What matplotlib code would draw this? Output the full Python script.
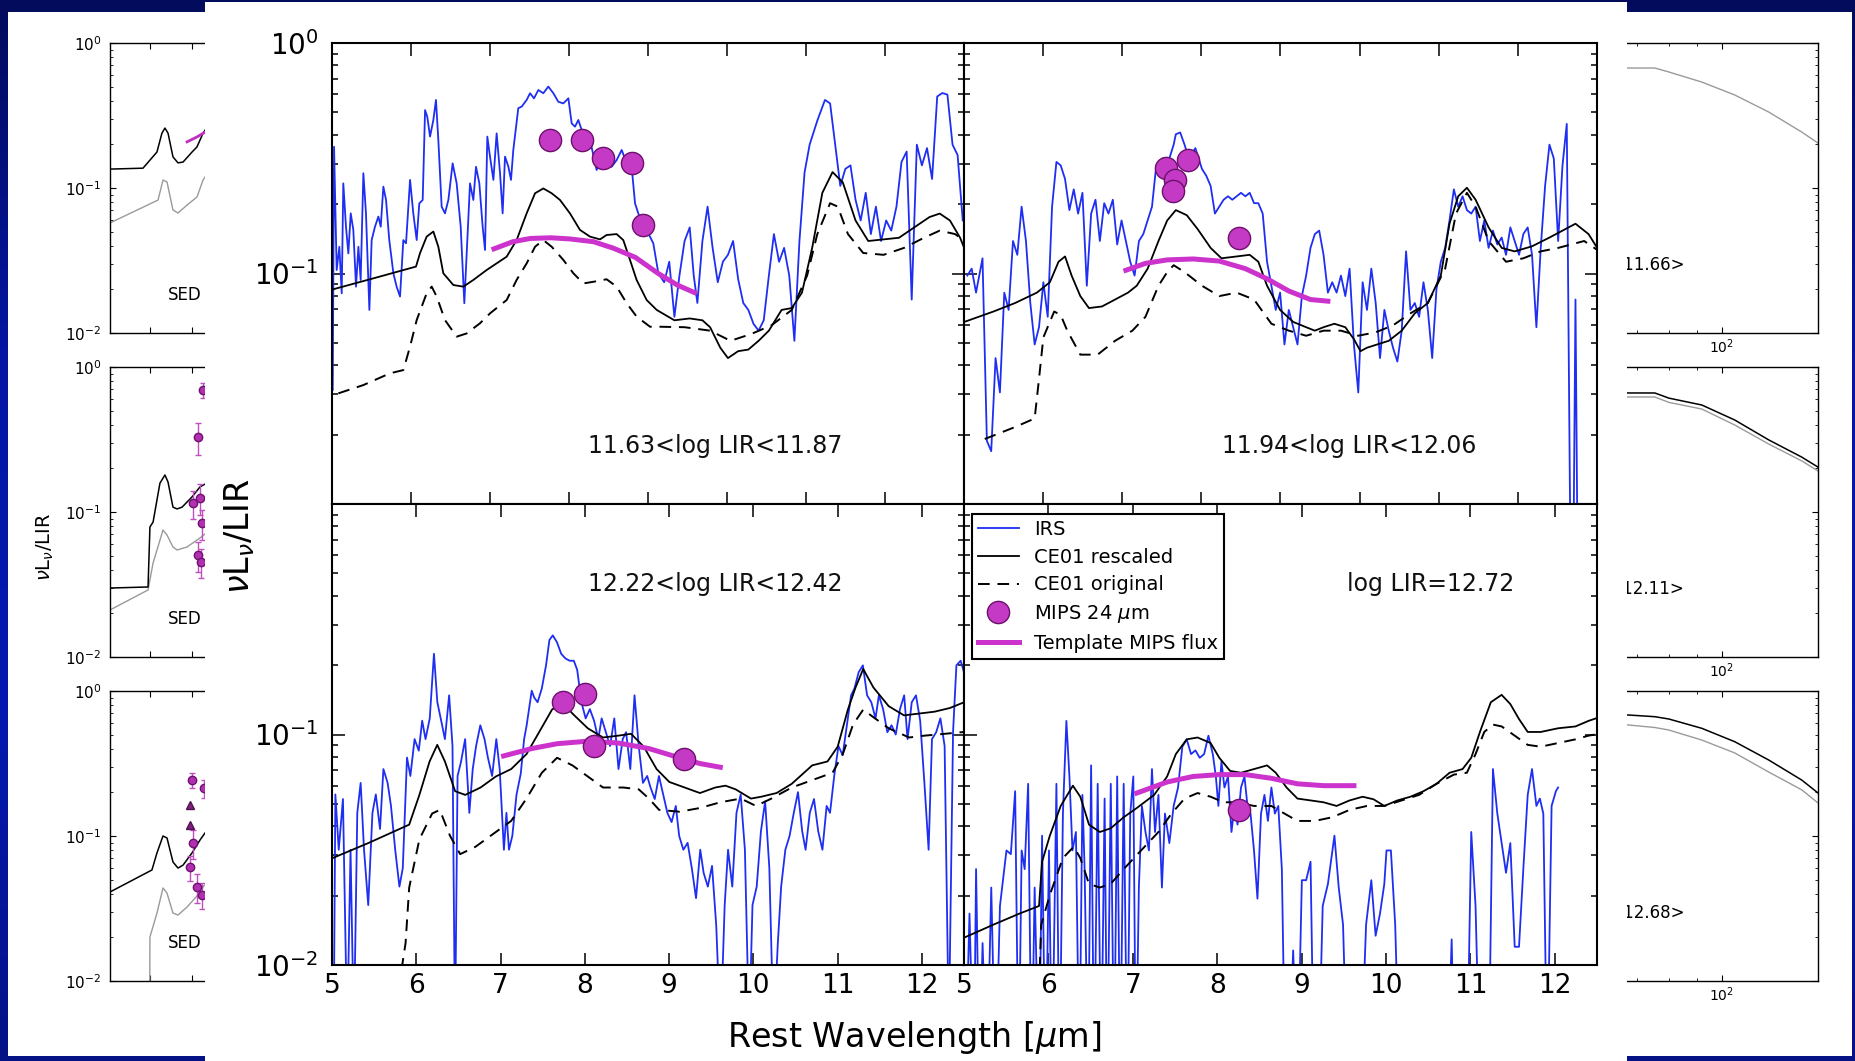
import matplotlib
matplotlib.use('Agg')

import matplotlib.pyplot as plt
import numpy as np
from matplotlib.patches import Rectangle
from matplotlib.colors import LinearSegmentedColormap
from matplotlib.ticker import NullFormatter, NullLocator, LogLocator

# ---------------- data: main 4 panels (wavelength in micron, log10 nuLnu/LIR) ----------------
# panel A: 11.63<log LIR<11.87
irs_a_wl = [5.009, 5.026, 5.059, 5.093, 5.123, 5.143, 5.177, 5.207, 5.237, 5.270,
            5.304, 5.334, 5.363, 5.397, 5.430, 5.473, 5.502, 5.544, 5.587, 5.617,
            5.650, 5.684, 5.725, 5.777, 5.818, 5.861, 5.903, 5.937, 5.988, 6.029,
            6.072, 6.105, 6.148, 6.178, 6.206, 6.241, 6.283, 6.316, 6.346, 6.388,
            6.430, 6.473, 6.527, 6.578, 6.629, 6.675, 6.705, 6.747, 6.789, 6.823,
            6.865, 6.907, 6.937, 6.966, 7.000, 7.043, 7.084, 7.127, 7.160, 7.190,
            7.233, 7.266, 7.295, 7.330, 7.358, 7.401, 7.464, 7.507, 7.557, 7.612,
            7.675, 7.738, 7.802, 7.865, 7.928, 7.992, 8.034, 8.076, 8.118, 8.182,
            8.266, 8.350, 8.413, 8.476, 8.540, 8.603, 8.667, 8.730, 8.793, 8.836,
            8.877, 8.941, 9.004, 9.067, 9.131,
            9.205, 9.269, 9.334, 9.398, 9.463, 9.528, 9.579, 9.625, 9.689, 9.754,
            9.818, 9.883, 9.948, 10.012, 10.077, 10.141, 10.206, 10.270, 10.335, 10.400,
            10.465, 10.530, 10.594, 10.659, 10.723, 10.788, 10.853, 10.917, 10.982, 11.046,
            11.143, 11.240, 11.305, 11.369, 11.434, 11.498, 11.563, 11.627, 11.692, 11.756,
            11.821, 11.885, 11.950, 12.015, 12.079, 12.145, 12.209, 12.274, 12.338, 12.403,
            12.467, 12.532, 12.596, 12.661, 12.726, 12.790, 12.855, 12.919, 12.984]
irs_a_lg = [-1.505, -0.450, -0.985, -0.884, -1.086, -0.609, -0.797, -0.913, -0.739, -0.811,
            -1.057, -0.884, -1.028, -0.565, -0.739, -1.158, -0.855, -0.797, -0.753, -0.797,
            -0.623, -0.681, -0.855, -0.999, -1.057, -1.100, -0.855, -0.869, -0.594, -0.739,
            -0.855, -0.696, -0.681, -0.291, -0.320, -0.406, -0.334, -0.247, -0.421, -0.710,
            -0.739, -0.681, -0.522, -0.609, -0.797, -1.129, -0.913, -0.609, -0.681, -0.537,
            -0.609, -0.797, -0.898, -0.406, -0.493, -0.594, -0.392, -0.565, -0.739, -0.493,
            -0.537, -0.594, -0.464, -0.363, -0.283, -0.276, -0.247, -0.218, -0.240, -0.204,
            -0.218, -0.189, -0.218, -0.255, -0.262, -0.240, -0.349, -0.363, -0.334, -0.399,
            -0.421, -0.551, -0.479, -0.493, -0.537, -0.508, -0.464, -0.522, -0.537, -0.696,
            -0.739, -0.797, -0.826, -0.869, -0.999,
            -1.038, -0.949, -1.188, -1.009, -0.859, -0.800, -1.009, -1.128, -0.859, -0.710,
            -0.889, -1.038, -0.949, -0.919, -0.859, -1.024, -1.128, -1.158, -1.218, -1.248,
            -1.203, -1.009, -0.829, -0.949, -0.889, -1.009, -1.292, -0.859, -0.561, -0.441,
            -0.337, -0.247, -0.262, -0.441, -0.620, -0.546, -0.531, -0.680, -0.770, -0.650,
            -0.829, -0.710, -0.859, -0.770, -0.814, -0.710, -0.516, -0.471, -1.113, -0.441,
            -0.531, -0.456, -0.590, -0.232, -0.217, -0.224, -0.441, -0.486, -0.770]
ce_a_wl = [5.009, 5.524, 6.063, 6.114, 6.198, 6.283, 6.346, 6.409, 6.536, 6.663,
           6.789, 6.957, 7.084, 7.211, 7.337, 7.464, 7.570, 7.675, 7.781, 7.886,
           8.012, 8.139, 8.266, 8.392, 8.476, 8.603, 8.687, 8.772, 8.856, 8.983,
           9.110, 9.334, 9.528, 9.689, 9.786, 9.915, 10.012, 10.141, 10.270, 10.400,
           10.530, 10.691, 10.820, 10.949, 11.078, 11.207, 11.336, 11.466, 11.627, 11.788,
           11.982, 12.177, 12.370, 12.564, 12.693, 12.822, 12.951, 13.002]
ce_a_lg = [-1.069, -1.021, -0.970, -0.912, -0.840, -0.818, -0.884, -0.999, -1.050, -1.057,
           -1.028, -0.985, -0.956, -0.927, -0.855, -0.739, -0.652, -0.631, -0.652, -0.681,
           -0.739, -0.811, -0.840, -0.852, -0.833, -0.829, -0.855, -0.941, -1.028, -1.115,
           -1.158, -1.203, -1.195, -1.203, -1.233, -1.322, -1.367, -1.337, -1.330, -1.292,
           -1.248, -1.158, -1.150, -1.083, -0.889, -0.650, -0.560, -0.605, -0.770, -0.859,
           -0.852, -0.845, -0.800, -0.755, -0.740, -0.770, -0.845, -0.889]
orig_a_wl = [5.080, 5.397, 5.734, 5.903, 5.988, 6.072, 6.198, 6.262, 6.325, 6.430,
             6.578, 6.705, 6.873, 7.000, 7.211, 7.337, 7.464, 7.570, 7.675, 7.781,
             7.928, 8.055, 8.182, 8.308, 8.476, 8.603, 8.730, 8.856, 9.026, 9.151,
             9.463, 9.786, 10.044, 10.302, 10.562, 10.820, 11.014, 11.143, 11.305, 11.402,
             11.531, 11.724, 11.982, 12.240, 12.499, 12.693, 12.887, 13.002]
orig_a_lg = [-1.520, -1.484, -1.433, -1.419, -1.317, -1.202, -1.086, -1.057, -1.100, -1.202,
             -1.274, -1.260, -1.216, -1.173, -1.115, -1.028, -0.956, -0.884, -0.855, -0.884,
             -0.941, -0.999, -1.043, -1.036, -1.025, -1.057, -1.129, -1.187, -1.231, -1.231,
             -1.233, -1.248, -1.292, -1.263, -1.225, -1.158, -1.009, -0.829, -0.695, -0.710,
             -0.829, -0.911, -0.919, -0.889, -0.844, -0.814, -0.829, -0.859]
tmpl_a_wl = [7.05, 7.29, 7.51, 7.77, 8.01, 8.31, 8.56, 8.84, 9.13, 9.37, 9.59]
tmpl_a_lg = [-0.893, -0.862, -0.848, -0.845, -0.850, -0.862, -0.890, -0.930, -1.000, -1.050, -1.083]
mips_a_wl = [7.76, 8.16, 8.435, 8.793, 8.941]
mips_a_lg = [-0.421, -0.421, -0.500, -0.522, -0.790]

# panel B: 11.94<log LIR<12.06
irs_b_wl = [5.042, 5.097, 5.152, 5.234, 5.289, 5.344, 5.399, 5.454, 5.509, 5.564,
            5.619, 5.674, 5.728, 5.783, 5.838, 5.893, 5.948, 6.003, 6.058, 6.113,
            6.168, 6.222, 6.277, 6.332, 6.387, 6.442, 6.497, 6.552, 6.607, 6.662,
            6.717, 6.772, 6.826, 6.881, 6.936, 6.991, 7.046, 7.101, 7.156, 7.211,
            7.266, 7.321, 7.376, 7.430, 7.513, 7.595, 7.650, 7.677, 7.732, 7.787,
            7.842, 7.924, 8.007, 8.062, 8.117, 8.171, 8.226, 8.281, 8.336, 8.391,
            8.446, 8.501, 8.556, 8.611, 8.666, 8.720, 8.775, 8.830, 8.885, 8.940,
            8.995, 9.050, 9.105, 9.160, 9.215, 9.270, 9.324, 9.379, 9.434, 9.489,
            9.544, 9.599, 9.654, 9.709, 9.764, 9.819, 9.873, 9.928, 9.983, 10.038,
            10.093, 10.148, 10.203, 10.258, 10.313, 10.368, 10.422, 10.477, 10.532, 10.587,
            10.642, 10.697, 10.752, 10.807, 10.862, 10.917, 10.971, 11.026, 11.081, 11.136,
            11.191, 11.246, 11.301, 11.356, 11.411, 11.466, 11.520, 11.575, 11.630, 11.685,
            11.740, 11.795, 11.850, 11.905, 11.960, 12.015, 12.069, 12.124, 12.179, 12.234,
            12.289, 12.344, 12.399, 12.454, 12.509, 12.564, 12.618, 12.684, 12.728, 12.772]
irs_b_lg = [-1.009, -0.979, -1.083, -0.934, -1.726, -1.771, -1.367, -1.516, -1.083, -1.158,
            -0.859, -0.919, -0.710, -0.859, -1.128, -1.308, -1.233, -1.038, -1.188, -0.710,
            -0.516, -0.531, -0.590, -0.725, -0.635, -0.740, -0.650, -1.053, -0.740, -0.680,
            -0.859, -0.695, -0.740, -0.680, -0.874, -0.770, -0.859, -0.949, -1.009, -0.859,
            -0.829, -0.770, -0.710, -0.531, -0.501, -0.501, -0.441, -0.396, -0.388, -0.441,
            -0.501, -0.456, -0.546, -0.576, -0.620, -0.740, -0.710, -0.680, -0.665, -0.680,
            -0.665, -0.650, -0.665, -0.650, -0.695, -0.695, -0.740, -0.949, -1.053, -1.158,
            -1.083, -1.308, -1.158, -1.233, -1.308, -1.098, -1.009, -0.889, -0.829, -0.814,
            -0.919, -1.083, -1.038, -1.083, -1.009, -1.098, -0.979, -1.308, -1.516, -1.038,
            -1.158, -0.979, -1.128, -1.367, -1.158, -1.248, -1.322, -1.382, -1.248, -0.904,
            -1.158, -1.128, -1.188, -1.038, -1.158, -1.367, -1.068, -0.949, -0.889, -0.770,
            -0.635, -0.710, -0.665, -0.725, -0.740, -0.710, -0.859, -0.770, -0.889, -0.814,
            -0.874, -0.844, -0.919, -0.800, -0.859, -0.919, -0.829, -0.800, -0.919, -1.233,
            -0.889, -0.620, -0.441, -0.501, -0.859, -0.531, -0.351, -3.000, -1.113, -3.000]
ce_b_wl = [5.004, 5.372, 5.646, 5.921, 6.085, 6.195, 6.277, 6.360, 6.470, 6.579,
           6.744, 6.909, 7.073, 7.183, 7.321, 7.458, 7.568, 7.677, 7.815, 7.952,
           8.117, 8.254, 8.446, 8.611, 8.720, 8.830, 8.995, 9.160, 9.324, 9.434,
           9.544, 9.681, 9.819, 9.928, 10.011, 10.093, 10.230, 10.368, 10.532, 10.697,
           10.862, 11.026, 11.136, 11.246, 11.356, 11.466, 11.630, 11.795, 11.960, 12.179,
           12.399, 12.564, 12.728, 12.893, 13.030]
ce_b_lg = [-1.210, -1.165, -1.128, -1.083, -1.038, -0.949, -0.926, -1.009, -1.098, -1.150,
           -1.143, -1.113, -1.083, -1.053, -0.979, -0.859, -0.770, -0.725, -0.747, -0.807,
           -0.889, -0.934, -0.926, -0.919, -0.949, -1.053, -1.158, -1.210, -1.233, -1.248,
           -1.233, -1.218, -1.233, -1.285, -1.337, -1.322, -1.307, -1.292, -1.248, -1.173,
           -1.128, -1.009, -0.784, -0.665, -0.628, -0.680, -0.800, -0.889, -0.904, -0.882,
           -0.844, -0.814, -0.784, -0.829, -0.904]
orig_b_wl = [5.262, 5.646, 5.893, 5.948, 6.003, 6.140, 6.222, 6.305, 6.470, 6.689,
             6.909, 7.128, 7.293, 7.458, 7.568, 7.650, 7.787, 8.007, 8.226, 8.446,
             8.666, 8.885, 9.105, 9.324, 9.544, 9.764, 9.983, 10.203, 10.422, 10.642,
             10.862, 11.081, 11.218, 11.356, 11.466, 11.630, 11.850, 12.069, 12.289, 12.509,
             12.673, 12.838, 13.030]
orig_b_lg = [-1.718, -1.666, -1.629, -1.457, -1.277, -1.165, -1.180, -1.248, -1.352, -1.352,
             -1.292, -1.248, -1.188, -1.053, -0.994, -0.964, -0.994, -1.053, -1.098, -1.083,
             -1.113, -1.218, -1.248, -1.270, -1.248, -1.248, -1.270, -1.255, -1.225, -1.173,
             -1.128, -0.979, -0.740, -0.650, -0.710, -0.859, -0.949, -0.934, -0.904, -0.889,
             -0.874, -0.859, -0.904]
tmpl_b_wl = [7.046, 7.293, 7.568, 7.897, 8.226, 8.556, 8.830, 9.105, 9.379, 9.599]
tmpl_b_lg = [-0.986, -0.956, -0.941, -0.937, -0.946, -0.979, -1.023, -1.076, -1.113, -1.120]
mips_b_wl = [7.551, 7.837, 7.667, 7.639, 8.473]
mips_b_lg = [-0.543, -0.508, -0.595, -0.643, -0.844]

# panel C: 12.22<log LIR<12.42  (values below the axis floor are set to -2.3)
irs_c_wl = [5.02, 5.04, 5.08, 5.13, 5.18, 5.22, 5.26, 5.30, 5.34, 5.38,
            5.43, 5.48, 5.52, 5.57, 5.61, 5.66, 5.70, 5.75, 5.80, 5.84,
            5.89, 5.93, 5.98, 6.03, 6.07, 6.11, 6.16, 6.21, 6.25, 6.29,
            6.34, 6.39, 6.43, 6.46, 6.49, 6.53, 6.58, 6.63, 6.67, 6.71,
            6.76, 6.81, 6.85, 6.90, 6.95, 6.99, 7.04, 7.07, 7.10, 7.14,
            7.19, 7.24, 7.28, 7.31, 7.37, 7.40, 7.44, 7.49, 7.54, 7.58,
            7.62, 7.67, 7.72, 7.77, 7.82, 7.87, 7.91, 7.96, 8.01, 8.06,
            8.11, 8.16, 8.20, 8.25, 8.30, 8.35, 8.40, 8.45, 8.49, 8.54,
            8.59, 8.64, 8.69, 8.74, 8.78, 8.83, 8.88, 8.93, 8.98, 9.03,
            9.08, 9.12, 9.17, 9.22, 9.27, 9.32, 9.37, 9.41, 9.46, 9.51,
            9.56, 9.61, 9.66, 9.70, 9.75, 9.80, 9.85, 9.90, 9.95, 9.99,
            10.04, 10.09, 10.14, 10.19, 10.24, 10.29, 10.33, 10.38, 10.43, 10.48,
            10.53, 10.58, 10.62, 10.67, 10.72, 10.77, 10.82, 10.87, 10.91, 10.96,
            11.01, 11.06, 11.11, 11.16, 11.20, 11.25, 11.30, 11.35, 11.40, 11.45,
            11.49, 11.54, 11.59, 11.64, 11.69, 11.74, 11.79, 11.83, 11.88, 11.93,
            11.98, 12.03, 12.08, 12.12, 12.17, 12.22, 12.27, 12.32, 12.37, 12.41,
            12.46, 12.50]
irs_c_lg = [-2.3, -1.26, -1.50, -1.28, -2.3, -1.50, -2.3, -1.34, -1.21, -1.50,
            -1.74, -1.34, -1.26, -1.41, -1.15, -1.21, -1.31, -1.50, -1.66, -1.58,
            -1.10, -1.18, -1.02, -1.07, -0.94, -1.02, -0.93, -0.65, -0.86, -0.93,
            -1.02, -0.83, -1.05, -2.3, -1.18, -1.12, -1.02, -1.34, -1.15, -1.05,
            -0.96, -1.02, -1.10, -1.18, -1.02, -1.15, -1.50, -1.34, -1.50, -1.44,
            -1.26, -1.17, -1.02, -0.96, -0.81, -0.84, -0.86, -0.80, -0.70, -0.59,
            -0.57, -0.60, -0.65, -0.67, -0.68, -0.68, -0.72, -0.86, -0.93, -0.89,
            -0.94, -1.02, -0.93, -0.99, -1.05, -0.93, -1.15, -1.02, -0.99, -1.15,
            -0.83, -1.05, -1.21, -1.18, -1.23, -1.28, -1.18, -1.26, -1.34, -1.38,
            -1.31, -1.44, -1.50, -1.47, -1.58, -1.71, -1.50, -1.60, -1.66, -1.57,
            -1.83, -2.3, -1.74, -1.50, -1.66, -1.34, -1.26, -1.50, -2.3, -1.74,
            -1.66, -1.42, -1.29, -1.58, -2.3, -1.91, -1.66, -1.50, -1.44, -1.34,
            -1.25, -1.42, -1.50, -1.34, -1.28, -1.42, -1.50, -1.31, -1.34, -1.18,
            -1.05, -1.09, -0.96, -0.83, -0.80, -0.73, -0.70, -0.83, -0.86, -0.93,
            -0.83, -0.89, -0.99, -0.96, -1.00, -0.89, -0.83, -1.02, -0.86, -0.83,
            -0.94, -1.21, -1.50, -1.02, -0.99, -0.93, -1.05, -2.3, -0.99, -0.70,
            -0.68, -0.73]
ce_c_wl = [5.008, 5.431, 5.916, 6.037, 6.158, 6.249, 6.340, 6.461, 6.581, 6.763,
           6.945, 7.126, 7.308, 7.459, 7.611, 7.732, 7.853, 8.035, 8.216, 8.398,
           8.549, 8.700, 8.852, 9.003, 9.185, 9.366, 9.548, 9.669, 9.790, 9.972,
           10.093, 10.275, 10.456, 10.698, 10.880, 11.001, 11.122, 11.213, 11.304, 11.425,
           11.606, 11.788, 11.970, 12.151, 12.333, 12.502]
ce_c_lg = [-1.536, -1.471, -1.391, -1.262, -1.117, -1.045, -1.117, -1.246, -1.262, -1.230,
           -1.182, -1.150, -1.085, -0.989, -0.892, -0.860, -0.909, -0.973, -1.013, -1.005,
           -0.997, -1.053, -1.150, -1.206, -1.230, -1.254, -1.230, -1.222, -1.238, -1.278,
           -1.270, -1.254, -1.214, -1.134, -1.117, -1.053, -0.892, -0.796, -0.716, -0.796,
           -0.877, -0.917, -0.909, -0.901, -0.885, -0.860]
orig_c_wl = [5.825, 5.873, 5.916, 6.037, 6.188, 6.279, 6.400, 6.521, 6.703, 6.884,
             7.126, 7.308, 7.490, 7.671, 7.853, 8.035, 8.216, 8.458, 8.640, 8.761,
             8.882, 9.124, 9.366, 9.608, 9.851, 10.032, 10.214, 10.456, 10.698, 10.940,
             11.062, 11.183, 11.304, 11.425, 11.606, 11.849, 12.030, 12.272, 12.502]
orig_c_lg = [-2.020, -1.905, -1.664, -1.455, -1.343, -1.327, -1.439, -1.519, -1.487, -1.439,
             -1.375, -1.278, -1.166, -1.101, -1.134, -1.182, -1.230, -1.230, -1.238, -1.278,
             -1.327, -1.335, -1.319, -1.294, -1.278, -1.310, -1.278, -1.230, -1.198, -1.166,
             -1.085, -0.957, -0.892, -0.925, -0.973, -1.013, -1.005, -0.997, -0.989]
tmpl_c_wl = [7.036, 7.369, 7.671, 8.035, 8.398, 8.761, 9.124, 9.366, 9.608]
tmpl_c_lg = [-1.093, -1.061, -1.040, -1.029, -1.037, -1.061, -1.101, -1.126, -1.142]
mips_c_wl = [7.744, 8.004, 8.107, 9.172]
mips_c_lg = [-0.860, -0.825, -1.050, -1.105]

# panel D: log LIR=12.72  (values below the axis floor are set to -2.5)
irs_d_wl = [5.014, 5.065, 5.117, 5.143, 5.184, 5.220, 5.271, 5.323, 5.374, 5.426,
            5.503, 5.555, 5.606, 5.647, 5.683, 5.719, 5.760, 5.801, 5.837, 5.889,
            5.925, 5.966, 6.007, 6.043, 6.095, 6.131, 6.172, 6.213, 6.249, 6.285,
            6.326, 6.367, 6.403, 6.429, 6.470, 6.506, 6.542, 6.584, 6.625, 6.666,
            6.697, 6.739, 6.779, 6.815, 6.851, 6.892, 6.934, 6.970, 7.006, 7.037,
            7.072, 7.108, 7.150, 7.191, 7.227, 7.263, 7.304, 7.345, 7.381, 7.433,
            7.484, 7.536, 7.587, 7.639, 7.690, 7.742, 7.793, 7.845, 7.896, 7.948,
            7.984, 8.014, 8.050, 8.086, 8.128, 8.169, 8.205, 8.241, 8.282, 8.323,
            8.359, 8.395, 8.436, 8.477, 8.519, 8.560, 8.601, 8.642, 8.683, 8.724,
            8.766, 8.807, 8.848, 8.900, 8.951, 9.003, 9.054, 9.106, 9.147, 9.198,
            9.250, 9.312, 9.389, 9.440, 9.491, 9.543, 9.594, 9.646, 9.697, 9.764,
            9.826, 9.877, 9.929, 9.980, 10.006, 10.058, 10.109, 10.161, 10.238, 10.495,
            10.727, 10.778, 10.814, 10.958, 11.010, 11.061, 11.113, 11.216, 11.267, 11.319,
            11.370, 11.422, 11.473, 11.525, 11.576, 11.627, 11.679, 11.730, 11.782, 11.823,
            11.864, 11.910, 11.962, 12.013, 12.039]
irs_d_lg = [-2.5, -1.777, -2.5, -1.584, -2.5, -1.905, -2.5, -1.664, -2.5, -1.744,
            -1.503, -1.519, -1.246, -2.5, -1.503, -1.584, -1.214, -2.5, -1.664, -2.5,
            -1.439, -2.5, -1.503, -2.5, -1.214, -2.5, -1.343, -0.941, -1.182, -1.503,
            -1.423, -2.5, -1.262, -1.584, -2.5, -1.134, -2.5, -1.214, -2.5, -1.278,
            -2.5, -1.214, -2.5, -1.182, -2.5, -1.214, -2.5, -1.343, -1.182, -2.5,
            -1.664, -1.310, -1.423, -1.503, -1.150, -1.423, -1.262, -1.664, -1.343, -1.471,
            -1.310, -1.230, -1.053, -1.021, -1.085, -1.069, -1.101, -1.085, -1.005, -1.085,
            -1.182, -1.310, -1.117, -1.230, -1.182, -1.423, -1.310, -1.391, -1.230, -1.182,
            -1.310, -1.343, -1.503, -1.712, -1.343, -1.262, -1.375, -1.230, -1.343, -1.310,
            -1.584, -2.5, -2.5, -1.937, -2.5, -1.632, -1.632, -1.552, -2.5, -2.5,
            -1.744, -1.648, -1.439, -1.664, -1.825, -2.5, -2.5, -2.5, -2.5, -1.825,
            -1.632, -1.873, -1.777, -1.648, -1.503, -1.503, -1.825, -2.5, -2.5, -2.5,
            -2.5, -1.889, -2.5, -2.5, -1.423, -1.744, -2.5, -2.5, -1.150, -1.343,
            -1.471, -1.600, -1.471, -1.921, -1.921, -1.584, -1.262, -1.150, -1.310, -1.278,
            -1.343, -2.5, -1.310, -1.246, -1.230]
ce_d_wl = [5.004, 5.348, 5.657, 5.889, 5.925, 6.017, 6.146, 6.290, 6.378, 6.481,
           6.609, 6.738, 6.892, 7.047, 7.253, 7.407, 7.510, 7.639, 7.768, 7.922,
           8.025, 8.153, 8.282, 8.436, 8.591, 8.694, 8.822, 8.951, 9.106, 9.260,
           9.414, 9.569, 9.723, 9.852, 9.980, 10.135, 10.289, 10.444, 10.598, 10.753,
           10.907, 11.010, 11.113, 11.242, 11.370, 11.473, 11.576, 11.679, 11.833, 12.039,
           12.245, 12.399, 12.528]
ce_d_lg = [-1.881, -1.825, -1.777, -1.744, -1.552, -1.439, -1.310, -1.222, -1.270, -1.391,
           -1.423, -1.407, -1.359, -1.319, -1.262, -1.182, -1.085, -1.021, -1.013, -1.037,
           -1.101, -1.158, -1.166, -1.150, -1.134, -1.166, -1.230, -1.278, -1.286, -1.294,
           -1.310, -1.286, -1.270, -1.281, -1.310, -1.286, -1.270, -1.246, -1.214, -1.166,
           -1.150, -1.101, -0.989, -0.860, -0.828, -0.868, -0.933, -0.989, -0.989, -0.973,
           -0.965, -0.941, -0.925]
orig_d_wl = [5.889, 5.915, 6.017, 6.172, 6.300, 6.378, 6.481, 6.609, 6.738, 6.892,
             7.098, 7.304, 7.459, 7.613, 7.768, 7.922, 8.076, 8.231, 8.436, 8.642,
             8.797, 8.951, 9.157, 9.363, 9.569, 9.774, 9.980, 10.186, 10.392, 10.598,
             10.804, 10.958, 11.061, 11.164, 11.267, 11.370, 11.525, 11.679, 11.833, 12.039,
             12.245, 12.399, 12.528]
orig_d_lg = [-2.100, -1.825, -1.696, -1.536, -1.487, -1.536, -1.648, -1.664, -1.648, -1.584,
             -1.503, -1.423, -1.343, -1.278, -1.254, -1.270, -1.294, -1.294, -1.310, -1.310,
             -1.343, -1.375, -1.375, -1.359, -1.327, -1.310, -1.310, -1.286, -1.262, -1.214,
             -1.174, -1.166, -1.085, -0.989, -0.957, -0.965, -1.005, -1.045, -1.053, -1.037,
             -1.021, -1.005, -0.997]
tmpl_d_wl = [7.047, 7.407, 7.716, 8.025, 8.334, 8.642, 8.951, 9.260, 9.620]
tmpl_d_lg = [-1.254, -1.206, -1.182, -1.174, -1.174, -1.190, -1.214, -1.222, -1.222]
mips_d_wl = [8.256]
mips_d_lg = [-1.326]

panel_labels = ['11.63<log LIR<11.87', '11.94<log LIR<12.06',
                '12.22<log LIR<12.42', 'log LIR=12.72']

# ---------------- data: slide panels behind the main figure ----------------
sed_fit_wl = [[5.00, 6.61, 7.44, 7.76, 7.96, 8.17, 8.52, 8.89, 9.28, 10.01, 10.44, 10.99, 11.18, 12.16],
              [5.00, 6.90, 7.01, 7.20, 7.63, 7.96, 8.17, 8.52, 8.82, 9.20, 10.01, 10.71, 12.16],
              [5.00, 7.13, 7.44, 7.83, 8.10, 8.52, 8.89, 9.28, 10.01, 10.71, 11.18, 12.16]]
sed_fit = [[0.135, 0.137, 0.177, 0.239, 0.259, 0.239, 0.164, 0.149, 0.151, 0.177, 0.192, 0.239, 0.251, 0.27],
           [0.0299, 0.0304, 0.0788, 0.0853, 0.158, 0.18, 0.161, 0.108, 0.105, 0.108, 0.127, 0.149, 0.17],
           [0.0411, 0.0583, 0.0764, 0.1, 0.0969, 0.0662, 0.0601, 0.063, 0.0764, 0.0938, 0.105, 0.12]]
sed_ce_wl = [[5.00, 7.51, 7.83, 8.10, 8.52, 8.89, 9.60, 10.44, 10.99, 12.16],
             [5.00, 6.90, 7.20, 7.83, 8.10, 8.52, 8.82, 9.60, 10.44, 10.71, 12.16],
             [7.00, 7.01, 7.44, 7.83, 8.10, 8.52, 8.89, 9.60, 10.44, 10.99, 12.16]]
sed_ce = [[0.0574, 0.0826, 0.1135, 0.110, 0.0705, 0.0672, 0.0763, 0.0867, 0.1135, 0.15],
          [0.0211, 0.029, 0.0445, 0.0751, 0.0694, 0.0574, 0.0547, 0.0574, 0.0641, 0.0662, 0.08],
          [0.009, 0.0201, 0.0294, 0.0438, 0.0404, 0.0294, 0.0285, 0.0324, 0.0386, 0.0445, 0.055]]
sed_mips_wl = [9.60, 10.44, 11.18, 12.16]
sed_mips = [0.208, 0.225, 0.243, 0.27]
sed_pts_wl = [[], [10.99, 10.53, 10.10, 10.71, 10.90, 10.53, 10.80],
              [10.01, 10.10, 9.84, 10.44, 10.90, 11.09]]
sed_pts = [[], [0.694, 0.329, 0.115, 0.125, 0.084, 0.0505, 0.0452],
           [0.243, 0.0895, 0.0611, 0.0445, 0.0392, 0.214]]
sed_pts_err = [[], [0.08, 0.08, 0.025, 0.03, 0.02, 0.012, 0.01],
               [0.03, 0.02, 0.012, 0.01, 0.008, 0.03]]
sed_tri_wl = [9.84, 9.84]
sed_tri = [0.164, 0.119]
sed_left_tags = ['SED', 'SED', 'SED']
sed_right_tags = ['<log LIR=11.66>', '<log LIR=12.11>', '<log LIR=12.68>']

fir_wl = [60, 67.5, 75.4, 80.0, 91.9, 105.6, 121.9, 140.1, 150]
fir_black = [None,
             [0.665, 0.662, 0.662, 0.61, 0.547, 0.431, 0.314, 0.239, 0.204],
             [0.69, 0.683, 0.665, 0.641, 0.553, 0.447, 0.334, 0.243, 0.198]]
fir_gray = [[0.68, 0.672, 0.672, 0.631, 0.538, 0.438, 0.334, 0.243, 0.204],
            [0.625, 0.621, 0.621, 0.57, 0.513, 0.398, 0.294, 0.225, 0.192],
            [0.59, 0.583, 0.56, 0.538, 0.459, 0.374, 0.276, 0.208, 0.169]]

# ---------------- layout helpers ----------------
W, H = 1856, 1061


def px_rect(x0, y0, x1, y1):
    return [x0 / W, 1 - y1 / H, (x1 - x0) / W, (y1 - y0) / H]


def white_box(x0, y0, x1, y1, z):
    r = px_rect(x0, y0, x1, y1)
    fig.add_artist(Rectangle((r[0], r[1]), r[2], r[3], transform=fig.transFigure,
                             facecolor='white', edgecolor='none', zorder=z))


fig = plt.figure(figsize=(W / 100, H / 100), dpi=100)

# slide background
bg = fig.add_axes([0, 0, 1, 1], zorder=-10)
slide = LinearSegmentedColormap.from_list('slide', ['#030b5c', '#0416a2', '#0519b0', '#041286'])
bg.imshow(np.linspace(0, 1, 256)[:, None], aspect='auto', cmap=slide, extent=[0, 1, 0, 1])
bg.set_axis_off()

white_box(8, 12, 760, 1056, -5)
white_box(1300, 12, 1852, 1056, -5)
white_box(205, 2, 1627, 1061, 5)

row_tops = [43, 367, 691]

# left slide panel (mostly hidden)
for r, top in enumerate(row_tops):
    ax = fig.add_axes(px_rect(110, top, 736, top + 290), zorder=-4)
    ax.set_xscale('log')
    ax.set_yscale('log')
    ax.plot(sed_ce_wl[r], sed_ce[r], color='#9a9a9a', lw=1.0)
    ax.plot(sed_fit_wl[r], sed_fit[r], color='black', lw=1.1)
    if r == 0:
        ax.plot(sed_mips_wl, sed_mips, color='#c030c0', lw=2)
    if sed_pts_wl[r]:
        ax.errorbar(sed_pts_wl[r], sed_pts[r], yerr=sed_pts_err[r], fmt='o', ms=6,
                    color='#b030b0', mec='#701070', ecolor='#c050c0', capsize=2, lw=1)
    if r == 2:
        ax.plot(sed_tri_wl, sed_tri, '^', ms=6, color='#802080', mec='#501050')
    ax.set_xlim(5, 1000)
    ax.set_ylim(0.01, 1)
    ax.xaxis.set_minor_locator(NullLocator())
    ax.set_xticks([7, 10])
    ax.set_xticklabels([])
    ax.set_yticks([0.01, 0.1, 1], [r'$10^{-2}$', r'$10^{-1}$', r'$10^{0}$'])
    ax.yaxis.set_minor_formatter(NullFormatter())
    ax.tick_params(which='both', direction='in', top=True, right=True, labelsize=11)
    ax.tick_params(axis='y', pad=6)
    ax.tick_params(which='major', length=4)
    ax.tick_params(which='minor', length=2)
    for s in ax.spines.values():
        s.set_linewidth(1.0)
    ax.text(0.093, 0.13, sed_left_tags[r], transform=ax.transAxes, fontsize=12, va='center')

fig.text(45 / W, 1 - 547 / H, r'$\nu$L$_\nu$/LIR', rotation=90, ha='center', va='center',
         fontsize=14, zorder=-3)

# right slide panel (mostly hidden; its left side lies under the main figure)
for r, top in enumerate(row_tops):
    ax = fig.add_axes(px_rect(1340, top, 1818, top + 290), zorder=-4)
    ax.set_xscale('log')
    ax.set_yscale('log')
    ax.plot(fir_wl, fir_gray[r], color='#9a9a9a', lw=1.0)
    if fir_black[r] is not None:
        ax.plot(fir_wl, fir_black[r], color='black', lw=1.1)
    ax.set_xlim(20, 150)
    ax.set_ylim(0.01, 1)
    ax.xaxis.set_minor_formatter(NullFormatter())
    ax.yaxis.set_major_formatter(NullFormatter())
    ax.yaxis.set_minor_formatter(NullFormatter())
    ax.tick_params(which='both', direction='in', top=True, right=True, labelsize=10)
    ax.tick_params(which='major', length=4)
    ax.tick_params(which='minor', length=2)
    for s in ax.spines.values():
        s.set_linewidth(1.0)
    ax.text(0.72, 0.234, sed_right_tags[r], transform=ax.transAxes,
            fontsize=12, ha='right', va='center')

# ---------------- main figure ----------------
IRS_C = '#1e2ef2'
MAG = '#cc33cc'

panels = [
    (irs_a_wl, irs_a_lg, ce_a_wl, ce_a_lg, orig_a_wl, orig_a_lg, tmpl_a_wl, tmpl_a_lg, mips_a_wl, mips_a_lg),
    (irs_b_wl, irs_b_lg, ce_b_wl, ce_b_lg, orig_b_wl, orig_b_lg, tmpl_b_wl, tmpl_b_lg, mips_b_wl, mips_b_lg),
    (irs_c_wl, irs_c_lg, ce_c_wl, ce_c_lg, orig_c_wl, orig_c_lg, tmpl_c_wl, tmpl_c_lg, mips_c_wl, mips_c_lg),
    (irs_d_wl, irs_d_lg, ce_d_wl, ce_d_lg, orig_d_wl, orig_d_lg, tmpl_d_wl, tmpl_d_lg, mips_d_wl, mips_d_lg),
]
boxes = [(332, 43, 964, 504), (964, 43, 1597, 504), (332, 504, 964, 965), (964, 504, 1597, 965)]
text_pos = [(0.606, 0.126), (0.609, 0.126), (0.606, 0.827), (0.737, 0.827)]
ylabels = [['', r'$10^{-1}$', r'$10^{0}$'], [], [r'$10^{-2}$', r'$10^{-1}$', ''], []]

for i, (data, b) in enumerate(zip(panels, boxes)):
    iw, il, cw, cl, ow, ol, tw, tl, mw, ml = data
    ax = fig.add_axes(px_rect(*b), zorder=6)
    ax.set_yscale('log')
    h_irs, = ax.plot(iw, 10 ** np.array(il), color=IRS_C, lw=1.3, label='IRS')
    h_ce, = ax.plot(cw, 10 ** np.array(cl), color='black', lw=1.3, label='CE01 rescaled')
    h_or, = ax.plot(ow, 10 ** np.array(ol), color='black', lw=1.4, ls='--', dashes=(6, 4),
                    label='CE01 original')
    h_mips, = ax.plot(mw, 10 ** np.array(ml), 'o', ms=16, mfc='#c43ac4', mec='#6e0f6e',
                      mew=1.0, label=r'MIPS 24 $\mu$m')
    h_tm, = ax.plot(tw, 10 ** np.array(tl), color=MAG, lw=3.6, label='Template MIPS flux')
    h_mips.set_zorder(h_tm.get_zorder() + 1)

    top_row = i < 2
    ax.set_xlim(5, 13 if top_row else 12.5)
    ax.set_ylim(0.01, 1)
    ax.set_xticks(range(6, 13) if top_row else range(5, 13))
    if top_row:
        ax.set_xticklabels([])
    else:
        ax.set_xticklabels([str(v) for v in range(5, 13)])
    ax.set_yticks([0.01, 0.1, 1])
    ax.set_yticklabels(ylabels[i] if ylabels[i] else ['', '', ''])
    ax.yaxis.set_minor_locator(LogLocator(base=10, subs=np.arange(2, 10)))
    ax.yaxis.set_minor_formatter(NullFormatter())
    ax.tick_params(which='both', direction='in', top=True, right=True, width=1.1)
    ax.tick_params(which='major', length=9)
    ax.tick_params(which='minor', length=4.5)
    ax.tick_params(axis='x', labelsize=19, pad=6)
    ax.tick_params(axis='y', labelsize=20, pad=10)
    for s in ax.spines.values():
        s.set_linewidth(1.5)

    ax.text(text_pos[i][0], text_pos[i][1], panel_labels[i], transform=ax.transAxes,
            ha='center', va='center', fontsize=17, color='#111111')

    if i == 3:
        leg = ax.legend(handles=[h_irs, h_ce, h_or, h_mips, h_tm], loc='upper left',
                        bbox_to_anchor=(0.013, 0.978), borderaxespad=0, fontsize=14,
                        fancybox=False, framealpha=1, edgecolor='black', numpoints=1,
                        handlelength=2.1, handletextpad=0.8, labelspacing=0.45, borderpad=0.3)
        leg.get_frame().set_linewidth(1.5)

fig.text(240 / W, 1 - 536 / H, r'$\nu$L$_\nu$/LIR', rotation=90, ha='center', va='center',
         fontsize=24, zorder=10)
fig.text(914 / W, 1 - 1037 / H, r'Rest Wavelength [$\mu$m]', ha='center', va='center',
         fontsize=24, zorder=10)

fig.savefig('out.png', dpi=100)
